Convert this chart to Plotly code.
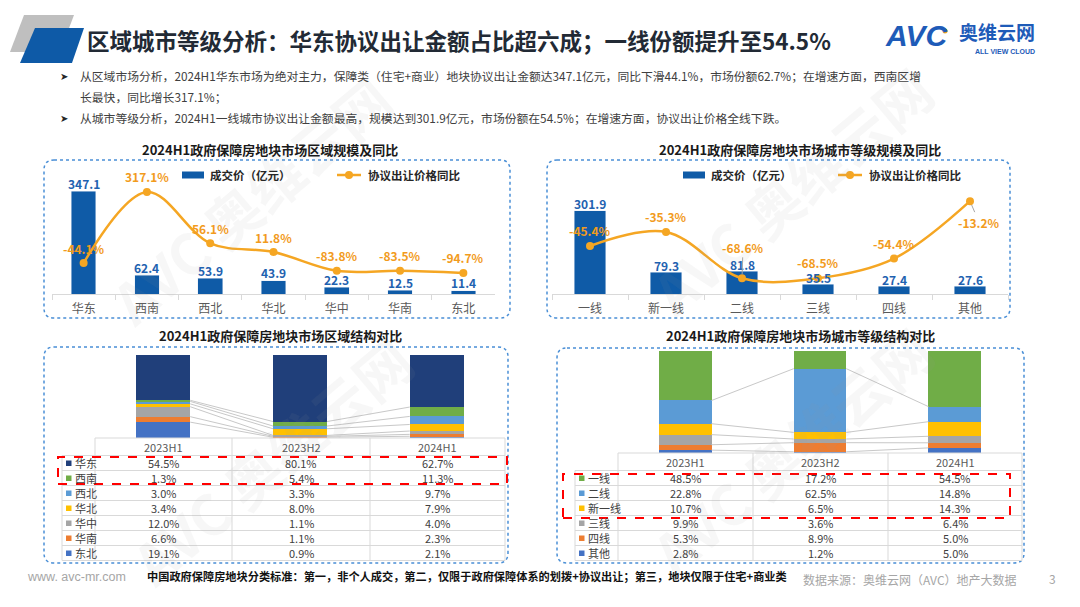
import plotly.graph_objects as go

# ---------------- DATA ----------------
regions = ["华东", "西南", "西北", "华北", "华中", "华南", "东北"]
region_amount = [347.1, 62.4, 53.9, 43.9, 22.3, 12.5, 11.4]
region_yoy = [-44.1, 317.1, 56.1, 11.8, -83.8, -83.5, -94.7]

tiers = ["一线", "新一线", "二线", "三线", "四线", "其他"]
tier_amount = [301.9, 79.3, 81.8, 35.5, 27.4, 27.6]
tier_yoy = [-45.4, -35.3, -68.6, -68.5, -54.4, -13.2]

periods = ["2023H1", "2023H2", "2024H1"]

share_east = [54.5, 80.1, 62.7]      # 华东
share_sw = [1.3, 5.4, 11.3]          # 西南
share_nw = [3.0, 3.3, 9.7]           # 西北
share_north = [3.4, 8.0, 7.9]        # 华北
share_central = [12.0, 1.1, 4.0]     # 华中
share_south = [6.6, 1.1, 2.3]        # 华南
share_ne = [19.1, 0.9, 2.1]          # 东北

share_t1 = [48.5, 17.2, 54.5]        # 一线
share_t2 = [22.8, 62.5, 14.8]        # 二线
share_new1 = [10.7, 6.5, 14.3]       # 新一线
share_t3 = [9.9, 3.6, 6.4]           # 三线
share_t4 = [5.3, 8.9, 5.0]           # 四线
share_other = [2.8, 1.2, 5.0]        # 其他

# ---------------- STYLE ----------------
W, H = 1080, 607
FONT = "Noto Sans CJK SC"
ORANGE = "#F5A623"
ORANGE_TXT = "#F29B1D"
BAR_BLUE = "#0F5BA7"
LABEL_BLUE = "#1F62B0"
GRID = "#D9D9D9"
BOX = "#4A8FD6"

C_NAVY = "#203F7A"
C_GREEN = "#70AD47"
C_LBLUE = "#5B9BD5"
C_YELLOW = "#FFC000"
C_GRAY = "#A5A5A5"
C_ORANGE = "#ED7D31"
C_BLUE = "#4472C4"


def X(p):
    return p / W


def Y(p):
    return 1 - p / H


left_table = [("华东", share_east, C_NAVY), ("西南", share_sw, C_GREEN), ("西北", share_nw, C_LBLUE),
              ("华北", share_north, C_YELLOW), ("华中", share_central, C_GRAY), ("华南", share_south, C_ORANGE),
              ("东北", share_ne, C_BLUE)]
right_table = [("一线", share_t1, C_GREEN), ("二线", share_t2, C_LBLUE), ("新一线", share_new1, C_YELLOW),
               ("三线", share_t3, C_GRAY), ("四线", share_t4, C_ORANGE), ("其他", share_other, C_BLUE)]

fig = go.Figure()
annotations = []
shapes = []


def txt(x, y, text, size=12, color="#404040", anchor="left", bold=False, family=FONT, **kw):
    annotations.append(dict(x=X(x), y=Y(y), xref="paper", yref="paper", text=text, showarrow=False,
                            xanchor=anchor, yanchor="middle",
                            font=dict(size=size, color=color, family=family,
                                      weight="bold" if bold else "normal"), **kw))


def hline(x0, x1, y, color=GRID, width=1, dash="solid"):
    shapes.append(dict(type="line", xref="paper", yref="paper", x0=X(x0), x1=X(x1), y0=Y(y), y1=Y(y),
                       line=dict(color=color, width=width, dash=dash), layer="above"))


def vline(x, y0, y1, color=GRID, width=1):
    shapes.append(dict(type="line", xref="paper", yref="paper", x0=X(x), x1=X(x), y0=Y(y0), y1=Y(y1),
                       line=dict(color=color, width=width), layer="above"))


def poly(points, color):
    path = "M " + " L ".join(f"{X(a):.5f},{Y(b):.5f}" for a, b in points) + " Z"
    shapes.append(dict(type="path", xref="paper", yref="paper", path=path, fillcolor=color,
                       line=dict(width=0), layer="above"))


def rbox(x0, y0, x1, y1, r=10):
    def p(a, b):
        return f"{X(a):.5f},{Y(b):.5f}"
    path = (f"M {p(x0 + r, y0)} L {p(x1 - r, y0)} Q {p(x1, y0)} {p(x1, y0 + r)} "
            f"L {p(x1, y1 - r)} Q {p(x1, y1)} {p(x1 - r, y1)} L {p(x0 + r, y1)} "
            f"Q {p(x0, y1)} {p(x0, y1 - r)} L {p(x0, y0 + r)} Q {p(x0, y0)} {p(x0 + r, y0)} Z")
    shapes.append(dict(type="path", xref="paper", yref="paper", path=path,
                       line=dict(color=BOX, width=1.5, dash="dot"), layer="below"))


# ---------------- watermarks ----------------
for wx, wy in [(250, 200), (790, 190), (270, 460), (790, 450)]:
    annotations.append(dict(x=X(wx), y=Y(wy), xref="paper", yref="paper", text="AVC 奥维云网",
                            showarrow=False, textangle=-40, xanchor="center", yanchor="middle",
                            font=dict(size=56, color="rgba(150,150,150,0.08)", family=FONT, weight="bold")))

# ---------------- header ----------------
poly([(24, 15), (74, 15), (60, 52), (10, 52)], "#BFBFBF")
poly([(35, 28), (84, 28), (72, 63), (20, 63)], "#0E5AA7")
txt(85, 40, "区域城市等级分析：华东协议出让金额占比超六成；一线份额提升至54.5%", size=22.5,
    color="#222A35", bold=True)
txt(883, 36, "<i>AVC</i>", size=30, color="#1E5BB8", bold=True, family="Liberation Sans")
shapes.append(dict(type="circle", xref="paper", yref="paper", x0=X(942.5), x1=X(947.5), y0=Y(28.5),
                   y1=Y(33.5), fillcolor=ORANGE, line=dict(width=0)))
txt(957, 31, "奥维云网", size=19, color="#1E5BB8", bold=True)
txt(973, 51, "ALL VIEW CLOUD", size=7, color="#1E5BB8", bold=True, family="Liberation Sans")

bul = "#262626"
txt(58, 76, "➤", size=10, color=bul)
txt(78, 76, "从区域市场分析，2024H1华东市场为绝对主力，保障类（住宅+商业）地块协议出让金额达347.1亿元，"
            "同比下滑44.1%，市场份额62.7%；在增速方面，西南区增", size=11.8, color="#404040")
txt(78, 97, "长最快，同比增长317.1%；", size=11.8, color="#404040")
txt(58, 117, "➤", size=10, color=bul)
txt(78, 117, "从城市等级分析，2024H1一线城市协议出让金额最高，规模达到301.9亿元，市场份额在54.5%；"
             "在增速方面，协议出让价格全线下跌。", size=11.8, color="#404040")

# ---------------- panel titles & boxes ----------------
txt(270, 149, "2024H1政府保障房地块市场区域规模及同比", size=13, color="#1A1A1A", bold=True, anchor="center")
txt(800, 149, "2024H1政府保障房地块市场城市等级规模及同比", size=13, color="#1A1A1A", bold=True, anchor="center")
txt(280, 335, "2024H1政府保障房地块市场区域结构对比", size=13, color="#1A1A1A", bold=True, anchor="center")
txt(800, 335, "2024H1政府保障房地块市场城市等级结构对比", size=13, color="#1A1A1A", bold=True, anchor="center")
rbox(44, 160, 510, 318)
rbox(547, 160, 1010, 318)
rbox(44, 347, 508, 563)
rbox(557, 348, 1024, 563)

# legends of top charts
for rx0, lx0 in [(182, 337), (683, 838)]:
    shapes.append(dict(type="rect", xref="paper", yref="paper", x0=X(rx0), x1=X(rx0 + 22), y0=Y(178.5),
                       y1=Y(171.5), fillcolor=BAR_BLUE, line=dict(width=0)))
    txt(rx0 + 26, 175, "成交价（亿元）", size=11.5, color="#262626", bold=True)
    hline(lx0, lx0 + 24, 175, color=ORANGE, width=2.5)
    shapes.append(dict(type="circle", xref="paper", yref="paper", x0=X(lx0 + 8), x1=X(lx0 + 16),
                       y0=Y(179), y1=Y(171), fillcolor=ORANGE, line=dict(width=0)))
    txt(lx0 + 29, 175, "协议出让价格同比", size=11.5, color="#262626", bold=True)

# ---------------- top-left chart ----------------
fig.add_trace(go.Bar(x=regions, y=region_amount, xaxis="x", yaxis="y", marker_color=BAR_BLUE,
                     width=0.39, showlegend=False, hoverinfo="skip"))
fig.add_trace(go.Scatter(x=regions, y=region_yoy, xaxis="x", yaxis="y2", mode="lines+markers",
                         line=dict(color=ORANGE, width=2.5, shape="spline", smoothing=1),
                         marker=dict(size=8, color=ORANGE), showlegend=False, hoverinfo="skip"))
for c, v in zip(regions, region_amount):
    annotations.append(dict(x=c, y=v, xref="x", yref="y", text=f"{v:.1f}", showarrow=False, yshift=8,
                            font=dict(size=12, color=LABEL_BLUE, family=FONT, weight="bold")))
for c, v in zip(regions, region_yoy):
    annotations.append(dict(x=c, y=v, xref="x", yref="y2", text=f"{v:.1f}%", showarrow=False, yshift=15,
                            font=dict(size=12, color=ORANGE_TXT, family=FONT, weight="bold")))

# ---------------- top-right chart ----------------
fig.add_trace(go.Bar(x=tiers, y=tier_amount, xaxis="x2", yaxis="y3", marker_color=BAR_BLUE,
                     width=0.41, showlegend=False, hoverinfo="skip"))
fig.add_trace(go.Scatter(x=tiers, y=tier_yoy, xaxis="x2", yaxis="y4", mode="lines+markers",
                         line=dict(color=ORANGE, width=2.5, shape="spline", smoothing=1),
                         marker=dict(size=8, color=ORANGE), showlegend=False, hoverinfo="skip"))
for c, v in zip(tiers, tier_amount):
    annotations.append(dict(x=c, y=v, xref="x2", yref="y3", text=f"{v:.1f}", showarrow=False, yshift=7,
                            font=dict(size=12, color=LABEL_BLUE, family=FONT, weight="bold")))
yoy_offsets = [(0, -15, False), (0, -15, False), (1, -31, True), (0, -16, False), (0, -15, False),
               (9, 21, True)]
for c, v, (dx, dy, lead) in zip(tiers, tier_yoy, yoy_offsets):
    annotations.append(dict(x=c, y=v, xref="x2", yref="y4", text=f"{v:.1f}%", showarrow=True,
                            ax=dx, ay=dy, arrowhead=0, arrowwidth=1, standoff=4,
                            arrowcolor="#A6A6A6" if lead else "rgba(0,0,0,0)",
                            font=dict(size=12, color=ORANGE_TXT, family=FONT, weight="bold")))


# ---------------- bottom stacked charts ----------------
def stacked(table, xa, ya, bw):
    stack = list(reversed(table))  # bottom to top
    cum = [0.0, 0.0, 0.0]
    for k, (name, vals, col) in enumerate(stack):
        fig.add_trace(go.Bar(x=[0, 1, 2], y=vals, xaxis=xa, yaxis=ya, marker=dict(color=col, line=dict(width=0)),
                             width=bw, name=name, showlegend=False, hoverinfo="skip"))
        cum = [c + v for c, v in zip(cum, vals)]
        if k < len(stack) - 1:
            xs, ys = [], []
            for i in range(2):
                xs += [i + bw / 2, i + 1 - bw / 2, None]
                ys += [cum[i], cum[i + 1], None]
            fig.add_trace(go.Scatter(x=xs, y=ys, xaxis=xa, yaxis=ya, mode="lines",
                                     line=dict(color="#C8C8C8", width=1), showlegend=False, hoverinfo="skip"))


stacked(left_table, "x3", "y5", 0.394)
stacked(right_table, "x4", "y6", 0.39)


def data_table(table, leg_x, cols, head_top, head_bot, row_h, sq_x):
    hline(cols[0], cols[-1], head_top)
    for cx in cols:
        vline(cx, head_top, head_bot)
    for i, p in enumerate(periods):
        txt((cols[i] + cols[i + 1]) / 2, (head_top + head_bot) / 2 + 0.5, p, size=11, color="#595959",
            anchor="center")
    n = len(table)
    bottom = head_bot + n * row_h
    for r in range(n + 1):
        hline(leg_x, cols[-1], head_bot + r * row_h)
    for cx in [leg_x] + cols:
        vline(cx, head_bot, bottom)
    for r, (name, vals, col) in enumerate(table):
        yc = head_bot + r * row_h + row_h / 2
        shapes.append(dict(type="rect", xref="paper", yref="paper", x0=X(sq_x), x1=X(sq_x + 5.5),
                           y0=Y(yc + 3), y1=Y(yc - 2.5), fillcolor=col, line=dict(width=0), layer="above"))
        txt(sq_x + 7, yc, name, size=11, color="#404040")
        for i, v in enumerate(vals):
            txt((cols[i] + cols[i + 1]) / 2, yc, f"{v:.1f}%", size=11, color="#404040", anchor="center")


data_table(left_table, 62, [95, 232, 370, 505], 438, 455.5, 15, 66)
data_table(right_table, 575, [618, 753, 888, 1022], 453, 470.5, 15, 579)

# red dashed highlight boxes
for x0, y0, x1, y1 in [(58, 457, 507, 484), (563, 474, 1010, 518)]:
    shapes.append(dict(type="rect", xref="paper", yref="paper", x0=X(x0), x1=X(x1), y0=Y(y1), y1=Y(y0),
                       line=dict(color="#FF0000", width=2, dash="dash"), layer="above"))

# ---------------- footer ----------------
txt(25, 577, "www. avc-mr.com", size=12.5, color="#A6A6A6", family="Liberation Sans")
txt(145, 576, "中国政府保障房地块分类标准：第一，非个人成交，第二，仅限于政府保障体系的划拨+协议出让；第三，地块仅限于住宅+商业类",
    size=11.2, color="#111111", bold=True)
txt(801, 579, "数据来源：奥维云网（AVC）地产大数据", size=12, color="#A6A6A6")
txt(1052, 578, "3", size=12, color="#A6A6A6", anchor="center")

# ---------------- layout ----------------
xcat = dict(type="category", showline=True, linecolor=GRID, linewidth=1, ticks="outside",
            tickson="boundaries", ticklen=5, tickcolor=GRID, showgrid=False, zeroline=False,
            ticklabelstandoff=4,
            tickfont=dict(size=12, color="#595959", family=FONT), fixedrange=True)
hidden = dict(visible=False, showgrid=False, zeroline=False, fixedrange=True)

fig.update_layout(
    width=W, height=H, margin=dict(l=0, r=0, t=0, b=0),
    paper_bgcolor="white", plot_bgcolor="rgba(0,0,0,0)",
    font=dict(family=FONT), hovermode=False, barmode="stack", showlegend=False,
    xaxis=dict(xcat, domain=[X(52), X(495)], anchor="y"),
    yaxis=dict(hidden, domain=[Y(294), Y(160)], range=[0, 451.6], anchor="x"),
    yaxis2=dict(hidden, overlaying="y", range=[-201.8, 479.8], anchor="x"),
    xaxis2=dict(xcat, domain=[X(552), X(1008)], anchor="y3"),
    yaxis3=dict(hidden, domain=[Y(294), Y(160)], range=[0, 485.6], anchor="x2"),
    yaxis4=dict(hidden, overlaying="y3", range=[-79.86, 16.34], anchor="x2"),
    xaxis3=dict(hidden, domain=[X(95), X(505)], range=[-0.5, 2.5], anchor="y5"),
    yaxis5=dict(hidden, domain=[Y(438), Y(355)], range=[0, 100], anchor="x3"),
    xaxis4=dict(hidden, domain=[X(618), X(1022)], range=[-0.5, 2.5], anchor="y6"),
    yaxis6=dict(hidden, domain=[Y(453), Y(351)], range=[0, 100], anchor="x4"),
    annotations=annotations, shapes=shapes,
)

fig.write_html("out.html", config={"displayModeBar": False})
